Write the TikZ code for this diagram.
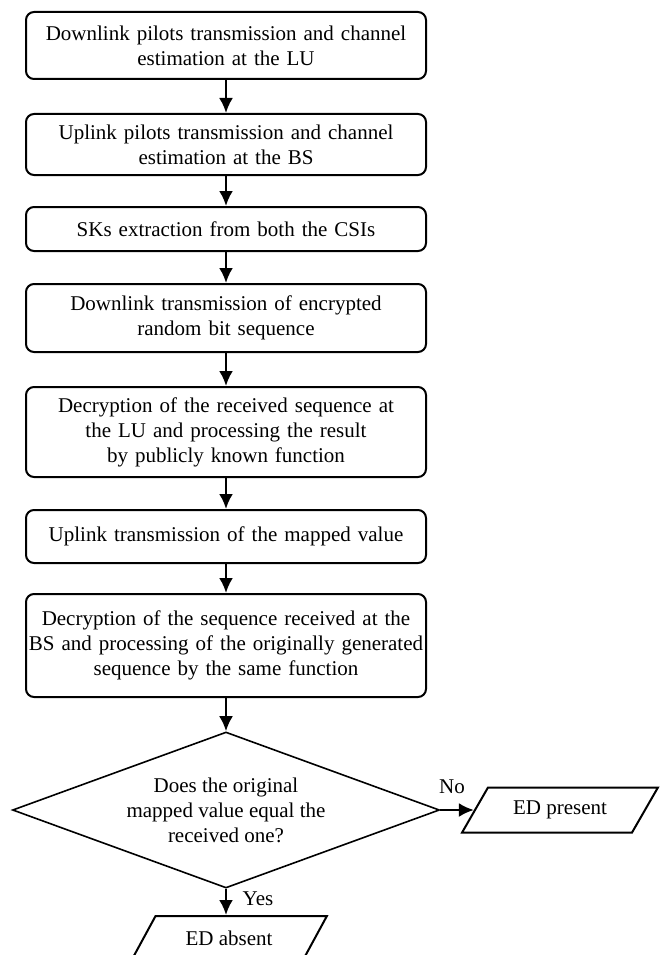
\documentclass[tikz,border=0pt]{standalone}
\usepackage{fontspec}
\setmainfont{Liberation Serif}
\usetikzlibrary{shapes.geometric,arrows.meta}

\tikzset{
  bloc/.style={draw, line width=2pt, rounded corners=8pt, align=center,
    text width=396pt, inner sep=2pt},
  decision/.style={draw, diamond, line width=1.6pt, aspect=2.7, inner sep=0pt,
    minimum width=427pt, minimum height=156pt, align=center},
  sortie/.style={draw, trapezium, trapezium left angle=54, trapezium right angle=126,
    trapezium stretches=true, line width=2pt, minimum width=196pt, minimum height=45pt},
  fleche/.style={line width=2.4pt, -{Latex[length=15pt,width=14pt]}}
}

\begin{document}
\begin{tikzpicture}[x=1pt,y=-1pt,
  every node/.style={font=\fontsize{21}{25}\selectfont}]

\useasboundingbox (0,0) rectangle (662,955);

% Blocs
\node[bloc, minimum height=67pt] (b1) at (226,45.5)
{Downlink pilots transmission and channel\\estimation at the LU};

\node[bloc, minimum height=61pt] (b2) at (226,144.5)
{Uplink pilots transmission and channel\\estimation at the BS};

\node[bloc, minimum height=44pt] (b3) at (226,229)
{SKs extraction from both the CSIs};

\node[bloc, minimum height=68pt] (b4) at (226,318)
{Downlink transmission of encrypted\\random bit sequence};

\node[bloc, minimum height=90pt] (b5) at (226,432)
{Decryption of the received sequence at\\the LU and processing the result\\by publicly known function};

\node[bloc, minimum height=53pt] (b6) at (226,536.5)
{Uplink transmission of the mapped value};

\node[bloc, minimum height=103pt] (b7) at (226,645.5)
{Decryption of the sequence received at the\\BS and processing of the originally generated\\sequence by the same function};

% Décision
\node[decision] (dec) at (226,810)
{Does the original\\mapped value equal the\\received one?};

% Sorties
\node[sortie] (present) at (560,810) {ED present};

\node[sortie] (absent) at (229,938.5) {ED absent};

% Flèches
\foreach \a/\b in {b1/b2,b2/b3,b3/b4,b4/b5,b5/b6,b6/b7}
{
    \draw[fleche] (\a) -- (\b);
}

\draw[fleche] (b7) -- (dec);

\draw[fleche]
(dec.east)
--
(dec.east -| present.west);

\draw[fleche]
(dec.south)
--
(dec.south |- absent.north);

\node (non) at (452,787) {No};

\node (oui) at (258,899) {Yes};

\end{tikzpicture}
\end{document}
